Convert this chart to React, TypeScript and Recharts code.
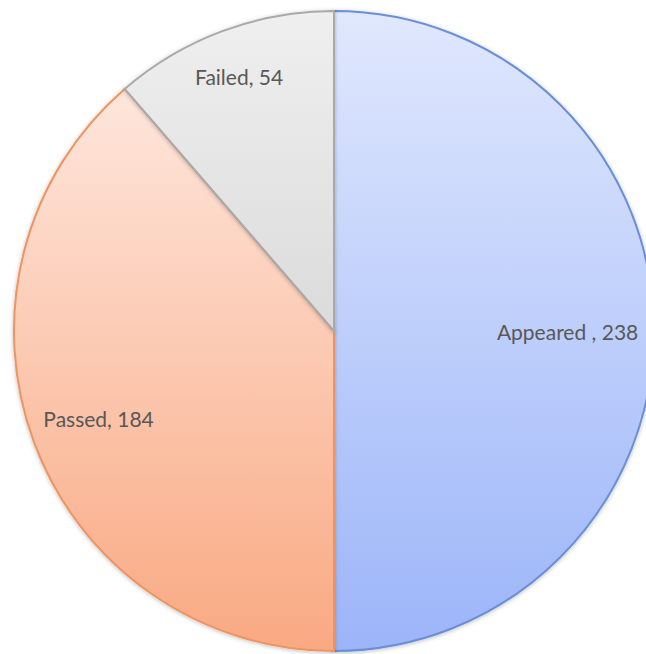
import { PieChart, Pie, Cell } from "recharts";

const categories = ["Appeared ", "Passed", "Failed"];
const counts = [238, 184, 54];

const gradients = [
  { id: "gApp", top: "#e0e8fd", bottom: "#9cb5f9", stroke: "#6a8fd8" },
  { id: "gPass", top: "#fee6dc", bottom: "#f9a982", stroke: "#ef9460" },
  { id: "gFail", top: "#efefef", bottom: "#dbdbdb", stroke: "#a9a9a9" },
];

// radial position of each label, as a fraction of the radius
const labelRadius = [0.73, 0.785, 0.85];

const data = categories.map((name, i) => ({ name, value: counts[i] }));

const RADIAN = Math.PI / 180;

const renderLabel = (props: any) => {
  const { cx, cy, midAngle, outerRadius, index, name, value } = props;
  const r = outerRadius * labelRadius[index];
  const x = cx + r * Math.cos(-midAngle * RADIAN);
  const y = cy + r * Math.sin(-midAngle * RADIAN);
  return (
    <text
      x={x}
      y={y}
      fill="#585858"
      fontSize={21}
      fontFamily="Lato, 'Open Sans', sans-serif"
      textAnchor="middle"
      dominantBaseline="central"
    >
      {`${name}, ${value}`}
    </text>
  );
};

export default function App() {
  return (
    <div style={{ position: "absolute", left: 0, top: 0 }}>
      <PieChart width={646} height={654} margin={{ top: 0, right: 0, bottom: 0, left: 0 }}>
        <defs>
          {gradients.map((g) => (
            <linearGradient key={g.id} id={g.id} x1="0" y1="0" x2="0" y2="1">
              <stop offset="0%" stopColor={g.top} />
              <stop offset="100%" stopColor={g.bottom} />
            </linearGradient>
          ))}
          <filter id="soft" x="-5%" y="-5%" width="110%" height="110%">
            <feDropShadow dx="0" dy="1" stdDeviation="2" floodColor="#000" floodOpacity="0.25" />
          </filter>
        </defs>
        <Pie
          data={data}
          dataKey="value"
          nameKey="name"
          cx={334}
          cy={331}
          outerRadius={320}
          startAngle={90}
          endAngle={-270}
          label={renderLabel}
          labelLine={false}
          isAnimationActive={false}
          style={{ filter: "url(#soft)" }}
        >
          {data.map((d, i) => (
            <Cell
              key={d.name}
              fill={`url(#${gradients[i].id})`}
              stroke={gradients[i].stroke}
              strokeWidth={2}
            />
          ))}
        </Pie>
      </PieChart>
    </div>
  );
}
